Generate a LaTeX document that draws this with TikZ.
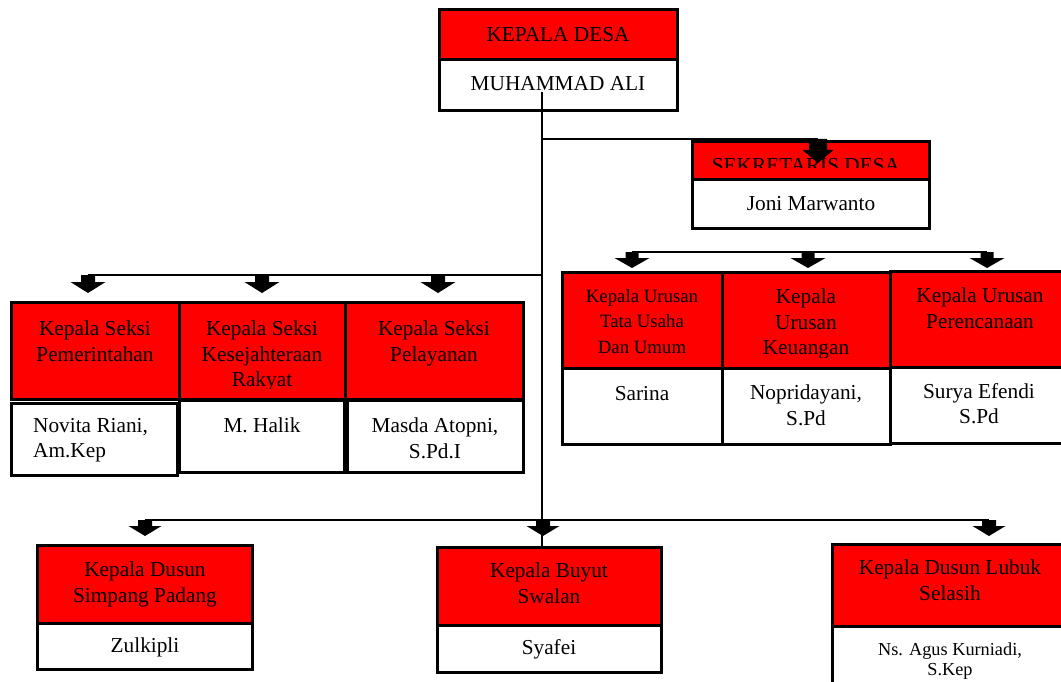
\documentclass[tikz,border=0pt]{standalone}
\usepackage{fontspec}
\setmainfont{Liberation Serif}

\begin{document}
\begin{tikzpicture}[x=1pt,y=-1pt,
	redbox/.style={draw,fill=red,line width=3pt,inner sep=0pt},
	whitebox/.style={draw,fill=white,line width=3pt,inner sep=0pt},
	posttext/.style={align=center,inner sep=0pt,font=\fontsize{21.3}{25.5}\selectfont},
	smalltext/.style={posttext,font=\fontsize{18.8}{25.5}\selectfont},
	conn/.style={line width=1.2pt},
	pics/down arrow/.style args={#1/#2/#3/#4}{code={
		\fill (-#1,0) -- (#1,0) -- (#1,#2) -- (#3,#2) -- (0,#4) -- (-#3,#2) -- (-#1,#2) -- cycle;}}]
	
	\clip (0,0) rectangle (1061,682);
	
	% kepala desa
	\node[redbox,minimum width=238,minimum height=50] (kdR) at (558,35) {};
	\node[whitebox,minimum width=238,minimum height=51] (kdW) at (558,85.5) {};
	\node[posttext,anchor=base] (kdT) at (558,42) {KEPALA DESA};
	\node[posttext,anchor=base] (kdN) at (558,91) {MUHAMMAD ALI};
	
	% sekretaris
	\node[redbox,minimum width=237,minimum height=38] (sekR) at (810.5,161) {};
	\node[whitebox,minimum width=237,minimum height=48] (sekW) at (810.5,204) {};
	\begin{scope}
		\clip (692,142) rectangle (929,168);
		\node[posttext,anchor=base] (sekT) at (806,173) {SEKRETARIS DESA};
	\end{scope}
	\node[posttext,anchor=base] (sekN) at (811,211) {Joni Marwanto};
	
	% kepala seksi
	\node[redbox,minimum width=168,minimum height=97] (pemR) at (95,350.5) {};
	\node[redbox,minimum width=166,minimum height=97] (kesR) at (262,350.5) {};
	\node[redbox,minimum width=178,minimum height=97] (pelR) at (434,350.5) {};
	\node[whitebox,minimum width=166,minimum height=72] (pemW) at (94,439) {};
	\node[whitebox,minimum width=165,minimum height=72] (kesW) at (261.5,436) {};
	\node[whitebox,minimum width=176,minimum height=72] (pelW) at (435,436) {};
	\node[posttext,anchor=north] (pemT) at (95,321) {Kepala Seksi\\Pemerintahan};
	\begin{scope}
		\clip (179,302) rectangle (345,388);
		\node[posttext,anchor=north] (kesT) at (262,321) {Kepala Seksi\\Kesejahteraan\\Rakyat};
	\end{scope}
	\node[posttext,anchor=north] (pelT) at (434,321) {Kepala Seksi\\Pelayanan};
	\node[posttext,align=left,anchor=north west] (pemN) at (33,418) {Novita Riani,\\Am.Kep};
	\node[posttext,anchor=base] (kesN) at (262,432) {M. Halik};
	\node[posttext,anchor=north] (pelN) at (435,418) {Masda Atopni,\\S.Pd.I};
	
	% kepala urusan
	\node[redbox,minimum width=160,minimum height=96] (tuR) at (642,320) {};
	\node[redbox,minimum width=168,minimum height=96] (keuR) at (806,320) {};
	\node[redbox,minimum width=182,minimum height=96] (perR) at (981,319) {};
	\node[whitebox,minimum width=160,minimum height=76] (tuW) at (642,406) {};
	\node[whitebox,minimum width=168,minimum height=76] (keuW) at (806,406) {};
	\node[whitebox,minimum width=182,minimum height=76] (perW) at (981,405) {};
	\node[smalltext,anchor=north] (tuT) at (642,289) {Kepala Urusan\\Tata Usaha\\Dan Umum};
	\begin{scope}
		\clip (722,272) rectangle (890,357);
		\node[posttext,anchor=north] (keuT) at (806,289) {Kepala\\Urusan\\Keuangan};
	\end{scope}
	\node[posttext,anchor=north] (perT) at (980,288) {Kepala Urusan\\Perencanaan};
	\node[posttext,anchor=base] (tuN) at (642,400) {Sarina};
	\node[posttext,anchor=north] (keuN) at (806,385) {Nopridayani,\\S.Pd};
	\node[posttext,anchor=north] (perN) at (979,383) {Surya Efendi\\S.Pd};
	
	% kepala dusun
	\node[redbox,minimum width=215,minimum height=78] (simR) at (144.5,584) {};
	\node[redbox,minimum width=224,minimum height=78] (buyR) at (549,586) {};
	\node[redbox,minimum width=240,minimum height=82] (lubR) at (952,585) {};
	\node[whitebox,minimum width=215,minimum height=46] (simW) at (144.5,646) {};
	\node[whitebox,minimum width=224,minimum height=47] (buyW) at (549,648.5) {};
	\node[whitebox,minimum width=240,minimum height=66] (lubW) at (952,659) {};
	\node[posttext,anchor=north] (simT) at (145,562) {Kepala Dusun\\Simpang Padang};
	\node[posttext,anchor=north] (buyT) at (549,563) {Kepala Buyut\\Swalan};
	\node[posttext,anchor=north] (lubT) at (950,560) {Kepala Dusun Lubuk\\Selasih};
	\node[posttext,anchor=base] (simN) at (145,652) {Zulkipli};
	\node[posttext,anchor=base] (buyN) at (549,654) {Syafei};
	\node[posttext,anchor=north,font=\fontsize{18.3}{20}\selectfont] (lubN) at (950,642.5) {Ns. Agus Kurniadi,\\S.Kep};
	
	% connectors
	\coordinate (trunk) at (542,92);
	\coordinate (aSek) at (818,139);
	\coordinate (aPem) at (88,275);
	\coordinate (aKes) at (262,275);
	\coordinate (aPel) at (438,275);
	\coordinate (aTU) at (632,252);
	\coordinate (aKeu) at (808,252);
	\coordinate (aPer) at (987,252);
	\coordinate (aSim) at (145,520);
	\coordinate (aBuy) at (543,520);
	\coordinate (aLub) at (989,520);
	
	\draw[conn] (trunk) -- (trunk |- buyR.north);
	\draw[conn] (trunk |- aSek) -- (aSek);
	\draw[conn] (trunk |- aPem) -- (aPem);
	\draw[conn] (aTU) -- (aPer);
	\draw[conn] (aSim) -- (aLub);
	
	\pic at (aSek) {down arrow=9/11/15.5/24};
	\pic at (aPem) {down arrow=7/7/17.5/18};
	\pic at (aKes) {down arrow=7/7/17.5/18};
	\pic at (aPel) {down arrow=7/7/17.5/18};
	\pic at (aTU) {down arrow=6.5/6/17.5/16};
	\pic at (aKeu) {down arrow=6.5/6/17.5/16};
	\pic at (aPer) {down arrow=6.5/6/17.5/16};
	\pic at (aSim) {down arrow=7/6/16.5/16};
	\pic at (aBuy) {down arrow=7/6/16.5/16};
	\pic at (aLub) {down arrow=7/6/16.5/16};
\end{tikzpicture}
\end{document}
